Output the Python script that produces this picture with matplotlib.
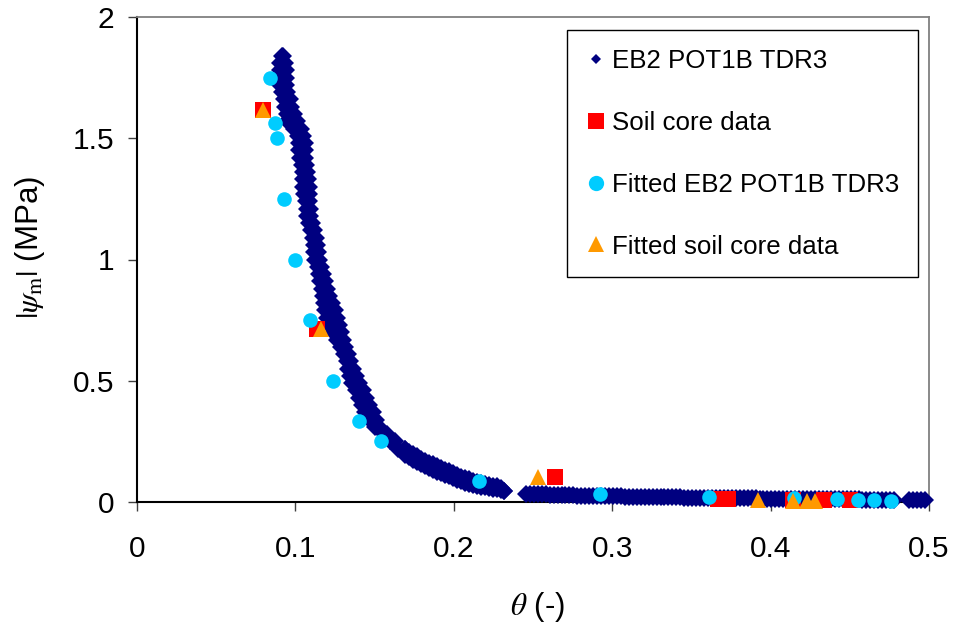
import numpy as np
import matplotlib
matplotlib.use("Agg")
import matplotlib.pyplot as plt
from matplotlib.lines import Line2D

plt.rcParams['font.family'] = ['Liberation Sans', 'DejaVu Sans']
plt.rcParams['mathtext.fontset'] = 'stix'

# --- EB2 POT1B TDR3 measurements (theta, |psi_m| in MPa) ---
# steep branch: two readings per suction level
tdr_psi_steep = [1.84,
                 1.81, 1.78, 1.75, 1.72, 1.69, 1.66, 1.63, 1.60, 1.57, 1.54,
                 1.51, 1.48, 1.45, 1.42, 1.39, 1.36, 1.33, 1.30, 1.27, 1.24,
                 1.21, 1.18, 1.15, 1.12, 1.09, 1.06, 1.03, 1.00, 0.97, 0.94,
                 0.91, 0.88, 0.85, 0.82, 0.79, 0.76, 0.73, 0.70, 0.67, 0.64,
                 0.61, 0.58, 0.55, 0.52, 0.49, 0.46, 0.43, 0.40, 0.37, 0.34,
                 0.31, 0.28, 0.25, 0.22]
tdr_theta_steep_a = [0.0915,
                     0.0903, 0.0903, 0.0903, 0.0905, 0.0915, 0.0930, 0.0935, 0.0945, 0.0950, 0.0990,
                     0.1015, 0.1020, 0.1025, 0.1030, 0.1040, 0.1045, 0.1048, 0.1050, 0.1055, 0.1065,
                     0.1072, 0.1075, 0.1085, 0.1100, 0.1112, 0.1116, 0.1120, 0.1126, 0.1140, 0.1148,
                     0.1155, 0.1165, 0.1172, 0.1178, 0.1188, 0.1200, 0.1215, 0.1235, 0.1262, 0.1285,
                     0.1305, 0.1325, 0.1335, 0.1345, 0.1355, 0.1380, 0.1400, 0.1420, 0.1440, 0.1470,
                     0.1500, 0.1560, 0.1600, 0.1650]
tdr_theta_steep_b = [0.0920,
                     0.0935, 0.0940, 0.0940, 0.0941, 0.0950, 0.0965, 0.0972, 0.0990, 0.1010, 0.1035,
                     0.1050, 0.1058, 0.1060, 0.1062, 0.1070, 0.1075, 0.1080, 0.1083, 0.1085, 0.1088,
                     0.1090, 0.1095, 0.1105, 0.1120, 0.1133, 0.1138, 0.1143, 0.1150, 0.1160, 0.1172,
                     0.1185, 0.1198, 0.1210, 0.1232, 0.1250, 0.1262, 0.1275, 0.1285, 0.1300, 0.1315,
                     0.1330, 0.1345, 0.1365, 0.1385, 0.1402, 0.1425, 0.1445, 0.1465, 0.1490, 0.1510,
                     0.1530, 0.1580, 0.1630, 0.1690]

# knee of the curve: two readings per water content
tdr_theta_knee = [0.1695, 0.172, 0.1745, 0.177, 0.1795, 0.182, 0.1845, 0.187, 0.1895,
                  0.192, 0.1945, 0.197, 0.1995, 0.202, 0.2045, 0.207, 0.2095, 0.212,
                  0.2145, 0.217, 0.2195, 0.222, 0.2245, 0.227, 0.2295, 0.2317]
tdr_psi_knee_a = [0.195, 0.185, 0.175, 0.165, 0.156, 0.148, 0.140, 0.132, 0.125,
                  0.118, 0.112, 0.106, 0.099, 0.092, 0.085, 0.080, 0.075, 0.070,
                  0.066, 0.063, 0.060, 0.057, 0.054, 0.052, 0.048, 0.045]
tdr_psi_knee_b = [0.218, 0.205, 0.196, 0.188, 0.179, 0.170, 0.162, 0.155, 0.147,
                  0.140, 0.133, 0.127, 0.120, 0.112, 0.105, 0.099, 0.093, 0.088,
                  0.084, 0.080, 0.076, 0.072, 0.068, 0.064, 0.056, 0.046]

# wet branch
tdr_theta_wet = [0.2456, 0.2480, 0.2505, 0.2530, 0.2555, 0.2580, 0.2605, 0.2630, 0.2655,
                 0.2680, 0.2705, 0.2730, 0.2755, 0.2780, 0.2805, 0.2830, 0.2855, 0.2880,
                 0.2905, 0.2930, 0.2955, 0.2980, 0.3005, 0.3030, 0.3055, 0.3080, 0.3105,
                 0.3130, 0.3155, 0.3180, 0.3205, 0.3230, 0.3255, 0.3280, 0.3305, 0.3330,
                 0.3355, 0.3380, 0.3405, 0.3430, 0.3455, 0.3480, 0.3505, 0.3530, 0.3555,
                 0.3580, 0.3605, 0.3630, 0.3655, 0.3680, 0.3705, 0.3730, 0.3755, 0.3780,
                 0.3805, 0.3830, 0.3855, 0.3880, 0.3905, 0.3930, 0.3955, 0.3980, 0.4005,
                 0.4030, 0.4055, 0.4080, 0.4105, 0.4130, 0.4155, 0.4180, 0.4205, 0.4230,
                 0.4255, 0.4280, 0.4305, 0.4330, 0.4355, 0.4380, 0.4405, 0.4430, 0.4455,
                 0.4480, 0.4505, 0.4530, 0.4555, 0.4580, 0.4605, 0.4630, 0.4655, 0.4680,
                 0.4705, 0.4730, 0.4755, 0.4780, 0.4875, 0.4900, 0.4925, 0.4950, 0.4975]
tdr_psi_wet = [0.0340, 0.0335, 0.0330, 0.0320, 0.0315, 0.0310, 0.0300, 0.0300, 0.0290,
               0.0285, 0.0280, 0.0275, 0.0270, 0.0265, 0.0260, 0.0260, 0.0255, 0.0250,
               0.0250, 0.0245, 0.0240, 0.0240, 0.0235, 0.0230, 0.0230, 0.0225, 0.0220,
               0.0220, 0.0215, 0.0210, 0.0210, 0.0210, 0.0205, 0.0200, 0.0200, 0.0200,
               0.0195, 0.0190, 0.0190, 0.0190, 0.0185, 0.0180, 0.0180, 0.0180, 0.0175,
               0.0170, 0.0170, 0.0170, 0.0165, 0.0160, 0.0160, 0.0160, 0.0155, 0.0150,
               0.0150, 0.0150, 0.0150, 0.0145, 0.0145, 0.0140, 0.0140, 0.0140, 0.0140,
               0.0135, 0.0135, 0.0130, 0.0130, 0.0130, 0.0130, 0.0125, 0.0125, 0.0120,
               0.0120, 0.0120, 0.0120, 0.0115, 0.0115, 0.0115, 0.0110, 0.0110, 0.0110,
               0.0110, 0.0105, 0.0105, 0.0105, 0.0100, 0.0100, 0.0100, 0.0100, 0.0100,
               0.0095, 0.0095, 0.0095, 0.0095, 0.0090, 0.0090, 0.0090, 0.0090, 0.0090]

# --- soil core data ---
core_theta = [0.0795, 0.1136, 0.264, 0.367, 0.373, 0.414, 0.434, 0.450]
core_psi = [1.616, 0.713, 0.103, 0.012, 0.012, 0.010, 0.010, 0.008]

# --- fitted curve evaluated at the TDR suction levels ---
fit_tdr_theta = [0.0840, 0.0871, 0.0884, 0.0928, 0.0997, 0.1092, 0.1237, 0.1402,
                 0.1540, 0.2160, 0.2920, 0.3610, 0.4150, 0.4420, 0.4550, 0.4650, 0.4760]
fit_tdr_psi = [1.75, 1.563, 1.50, 1.25, 1.00, 0.75, 0.50, 0.333,
               0.25, 0.087, 0.033, 0.020, 0.018, 0.012, 0.008, 0.008, 0.004]

# --- fitted curve evaluated at the soil core suction levels ---
fit_core_theta = [0.0795, 0.1160, 0.253, 0.392, 0.414, 0.423, 0.428]
fit_core_psi = [1.616, 0.713, 0.103, 0.008, 0.003, 0.003, 0.003]

labels = ["EB2 POT1B TDR3", "Soil core data", "Fitted EB2 POT1B TDR3", "Fitted soil core data"]
colors = ["#000080", "#FF0000", "#00CCFF", "#FF9900"]

tdr_theta = np.concatenate([tdr_theta_steep_a, tdr_theta_steep_b, tdr_theta_knee,
                            tdr_theta_knee, tdr_theta_wet])
tdr_psi = np.concatenate([tdr_psi_steep, tdr_psi_steep, tdr_psi_knee_a,
                          tdr_psi_knee_b, tdr_psi_wet])

fig = plt.figure(figsize=(9.6, 6.31), dpi=100)
ax = fig.add_axes([137 / 960, 1 - 502 / 631, (929 - 137) / 960, (502 - 17) / 631])

ax.plot(tdr_theta, tdr_psi, linestyle="none", marker="D", markersize=9,
        color=colors[0], markeredgewidth=0, clip_on=False, zorder=3)
ax.plot(core_theta, core_psi, linestyle="none", marker="s", markersize=11.5,
        color=colors[1], markeredgewidth=0, clip_on=False, zorder=4)
ax.plot(fit_tdr_theta, fit_tdr_psi, linestyle="none", marker="o", markersize=10.5,
        color=colors[2], markeredgewidth=0, clip_on=False, zorder=5)
ax.plot(fit_core_theta, fit_core_psi, linestyle="none", marker="^", markersize=12,
        color=colors[3], markeredgewidth=0, clip_on=False, zorder=6)

ax.set_xlim(0, 0.5)
ax.set_ylim(0, 2)
xticks = [0, 0.1, 0.2, 0.3, 0.4, 0.5]
yticks = [0, 0.5, 1, 1.5, 2]
ax.set_xticks(xticks)
ax.set_xticklabels(["0", "0.1", "0.2", "0.3", "0.4", "0.5"])
ax.set_yticks(yticks)
ax.set_yticklabels(["0", "0.5", "1", "1.5", "2"])

for side in ("left", "bottom"):
    ax.spines[side].set_color("black")
    ax.spines[side].set_linewidth(1.5)
for side in ("top", "right"):
    ax.spines[side].set_color("#808080")
    ax.spines[side].set_linewidth(1.3)

ax.tick_params(axis="both", direction="out", length=6.5, width=1.0,
               color="#404040", labelsize=21.5, labelcolor="black")
ax.tick_params(axis="y", pad=10)
ax.tick_params(axis="x", pad=17)

fig.text(30 / 960, 1 - 247 / 631, r"$|\psi_{\mathrm{m}}|$ (MPa)", rotation=90,
         ha="center", va="center", fontsize=22.5)
fig.text(537 / 960, 1 - 607 / 631, r"$\theta$ (-)", ha="center", va="center", fontsize=22.5)

# legend entries with the spreadsheet-style marker sizes
handles = [
    Line2D([], [], linestyle="none", marker="D", markersize=5, color=colors[0], markeredgewidth=0),
    Line2D([], [], linestyle="none", marker="s", markersize=11, color=colors[1], markeredgewidth=0),
    Line2D([], [], linestyle="none", marker="o", markersize=11, color=colors[2], markeredgewidth=0),
    Line2D([], [], linestyle="none", marker="^", markersize=11, color=colors[3], markeredgewidth=0),
]
leg = ax.legend(handles, labels, loc="upper left", bbox_to_anchor=(567 / 960, 1 - 30 / 631),
                bbox_transform=fig.transFigure, frameon=True, fancybox=False,
                edgecolor="black", framealpha=1, borderpad=0.72, handlelength=0.78,
                handletextpad=0.23, labelspacing=1.47, fontsize=18.6, borderaxespad=0,
                numpoints=1)
leg.get_frame().set_linewidth(1.0)

fig.savefig("out.png", dpi=100)
